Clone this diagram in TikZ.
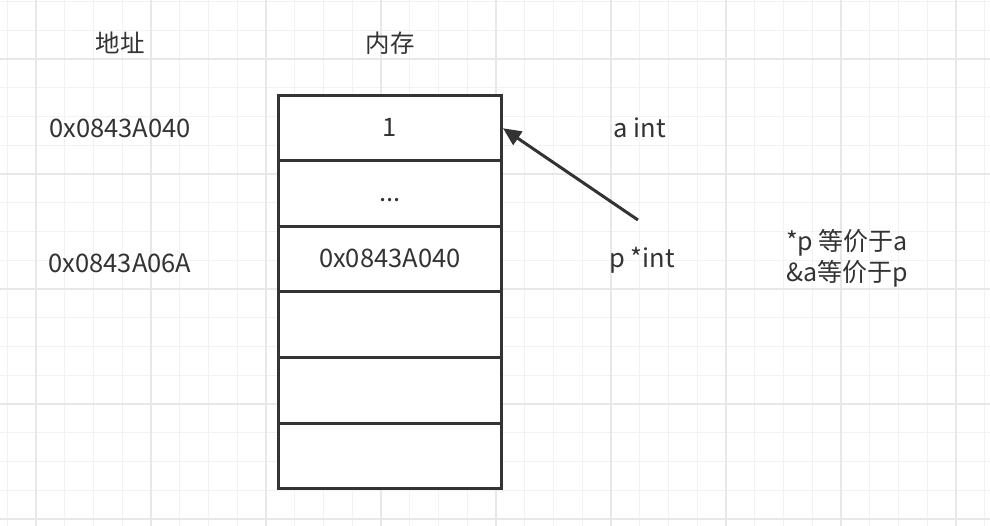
\documentclass[tikz,border=0pt]{standalone}
\usepackage{fontspec}
\setmainfont{Noto Sans CJK SC}
\usetikzlibrary{arrows.meta}
\definecolor{ink}{HTML}{333333}
\definecolor{gminor}{HTML}{F2F2F2}
\definecolor{gmajor}{HTML}{E8E8E8}
\tikzset{
  minorline/.style={draw=gminor,line width=1pt},
  majorline/.style={draw=gmajor,line width=1.4pt},
  cell/.style={draw=ink,line width=3pt,fill=white,minimum width=223.5pt,minimum height=65.5pt,inner sep=0pt,text=ink,text height=16pt,text depth=0pt,font=\fontsize{25.5}{30}\selectfont},
  lbl/.style={text=ink,font=\fontsize{25.5}{30}\selectfont,inner sep=0pt},
  cjklbl/.style={text=ink,font=\fontsize{24.5}{30}\selectfont,inner sep=0pt},
  ptr/.style={draw=ink,line width=3pt,-{Triangle[length=18pt,width=16pt]}}
}
\begin{document}
\begin{tikzpicture}[x=1pt,y=-1pt]
\useasboundingbox (0,0) rectangle (990,526);
\fill[white] (0,0) rectangle (990,526);
% grid
\foreach \k in {0,...,34} \draw[minorline] ({7.25+\k*28.75},0) -- ({7.25+\k*28.75},526);
\foreach \k in {0,...,18} \draw[minorline] (0,{1.5+\k*28.75}) -- (990,{1.5+\k*28.75});
\foreach \x in {36,151,266,381,496,611,726,841,956} \draw[majorline] (\x,0) -- (\x,526);
\foreach \y in {59,174,289,404,519} \draw[majorline] (0,\y) -- (990,\y);
% headers
\node[cjklbl] (haddr) at (120,43) {地址};
\node[cjklbl] (hmem) at (390,43) {内存};
% addresses
\node[lbl] (addr1) at (120,128) {0x0843A040};
\node[lbl] (addr2) at (120,263) {0x0843A06A};
% memory cells
\node[cell] (c1) at (389.75,128.25) {1};
\node[cell] (c2) at (389.75,193.75) {...};
\node[cell] (c3) at (389.75,259.25) {0x0843A040};
\node[cell] (c4) at (389.75,324.75) {};
\node[cell] (c5) at (389.75,390.25) {};
\node[cell] (c6) at (389.75,455.75) {};
% names
\node[lbl] (na) at (640,128) {a int};
\node[lbl] (np) at (642,260) {p *int};
\node[cjklbl,font=\fontsize{25}{31}\selectfont,align=left,anchor=west] (note) at (786,258) {*p 等价于a\\\&a等价于p};
% arrow
\coordinate (ptail) at (638,220);
\draw[ptr] (ptail) -- (c1.east);
\end{tikzpicture}
\end{document}
